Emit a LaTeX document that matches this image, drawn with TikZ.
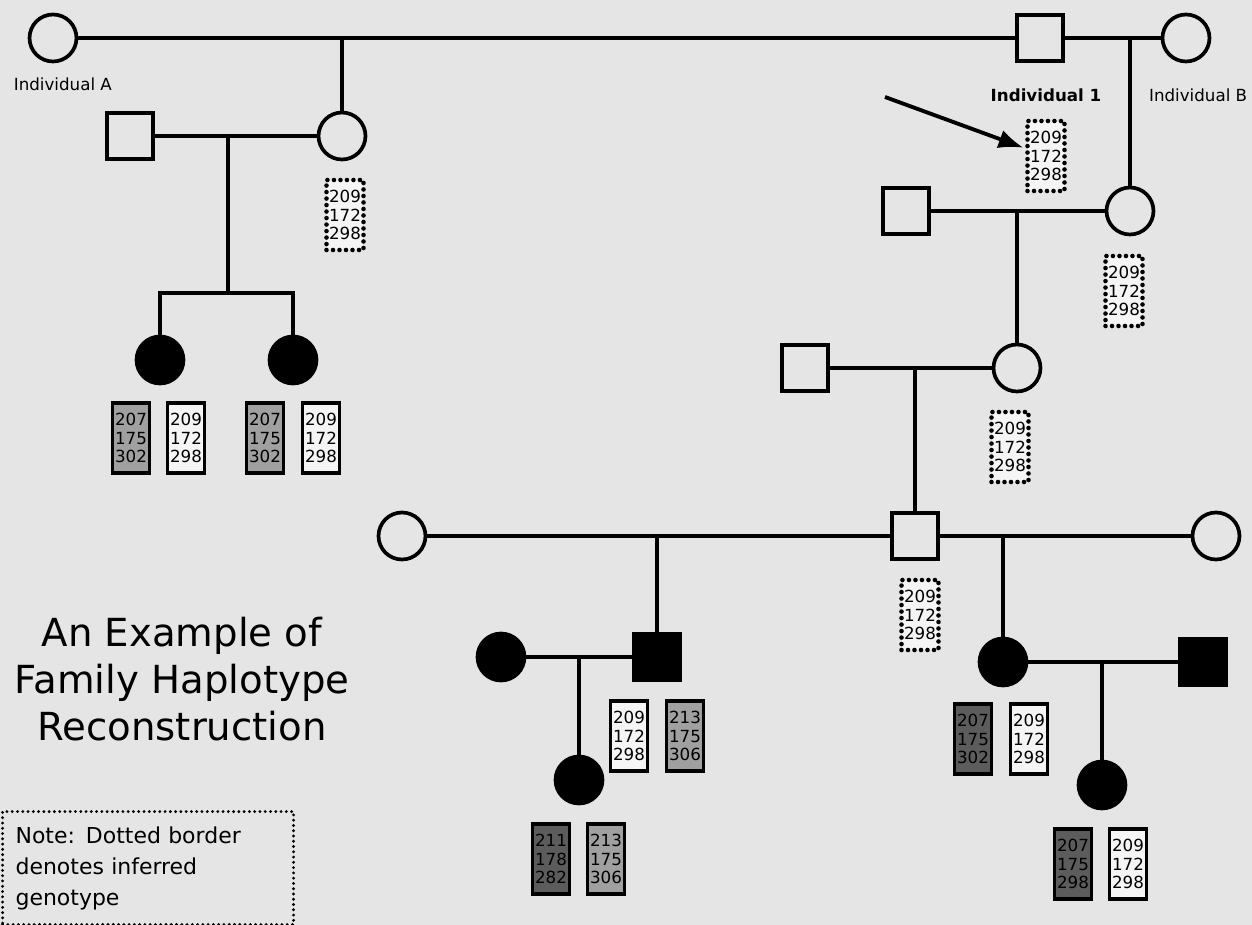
\documentclass[tikz,border=0pt]{standalone}
\usepackage{fontspec}
\setmainfont{DejaVu Sans}
\usetikzlibrary{arrows.meta}
\definecolor{scanbg}{RGB}{229,229,229}
\definecolor{hapgray}{RGB}{160,160,160}
\definecolor{hapdark}{RGB}{92,92,92}
\tikzset{
  male/.style={draw, line width=2.1pt, minimum size=0.92cm, inner sep=0pt},
  female/.style={circle, draw, line width=2.1pt, minimum size=0.94cm, inner sep=0pt},
  affm/.style={male, fill=black},
  afff/.style={female, fill=black},
  hap/.style={draw, line width=2.1pt, minimum width=0.74cm, minimum height=1.4cm,
    inner sep=0pt, align=center, font=\fontsize{9.5}{10.6}\selectfont},
  hapw/.style={hap, fill=white!96!black},
  hapg/.style={hap, fill=hapgray},
  hapd/.style={hap, fill=hapdark},
  hapinf/.style={hap, fill=white!96!black, line width=2.6pt, dash pattern=on 0pt off 3.7pt, line cap=round},
  lbl/.style={inner sep=0pt, font=\fontsize{9.5}{11}\selectfont},
}

\begin{document}
\begin{tikzpicture}[x=0.02cm, y=-0.02cm, line width=2.1pt, >=Latex]
  % page
  \fill[scanbg] (0,0) rectangle (1252,925);
  \useasboundingbox (0,0) rectangle (1252,925);
  % first generation
  \node[female] (indA) at (53,38) {};
  \node[male] (ind1) at (1040,38) {};
  \node[female] (indB) at (1186,38) {};
  \draw (indA) -- (ind1) -- (indB);
  \node[lbl, anchor=west] (lblA) at (12,84) {Individual A};
  \node[lbl, font=\fontsize{9.5}{11}\selectfont\bfseries] (lbl1) at (1046,95) {Individual 1};
  \node[lbl, anchor=east] (lblB) at (1249,95) {Individual B};
  \node[hapinf] (gInd1) at (1046,156) {209\\172\\298};
  \coordinate (arr) at (885,97);
  \draw[-{Latex[length=5mm,width=3.8mm]}, line width=2.2pt, shorten >=1pt] (arr) -- (gInd1);
  % left branch (daughter of Individual A)
  \node[female] (momA) at (342,136) {};
  \node[male] (dadL) at (130,136) {};
  \draw (momA |- indA) -- (momA);
  \draw (dadL) -- (momA);
  \node[hapinf] (gMomA) at (345,215) {209\\172\\298};
  \node[afff] (sis1) at (160,360) {};
  \node[afff] (sis2) at (293,360) {};
  \coordinate (jL) at (228,136);
  \coordinate (sL) at (228,293);
  \draw (jL) -- (sL);
  \draw (sis1) |- (sL) -| (sis2);
  \node[hapg] (gS1a) at (131,438) {207\\175\\302};
  \node[hapw] (gS1b) at (186,438) {209\\172\\298};
  \node[hapg] (gS2a) at (265,438) {207\\175\\302};
  \node[hapw] (gS2b) at (321,438) {209\\172\\298};
  % right branch (daughter of Individual B)
  \node[female] (girlB) at (1130,211) {};
  \node[male] (hubB) at (906,211) {};
  \draw (girlB |- ind1) -- (girlB);
  \draw (hubB) -- (girlB);
  \node[hapinf] (gGirlB) at (1124,291) {209\\172\\298};
  \node[female] (g3f) at (1017,368) {};
  \node[male] (g3m) at (805,368) {};
  \draw (g3f |- hubB) -- (g3f);
  \draw (g3m) -- (g3f);
  \node[hapinf] (gG3f) at (1010,447) {209\\172\\298};
  \node[male] (g4m) at (915,536) {};
  \node[female] (leftW) at (402,536) {};
  \node[female] (rightW) at (1216,536) {};
  \draw (g4m |- g3m) -- (g4m);
  \draw (leftW) -- (g4m) -- (rightW);
  \node[hapinf] (gG4m) at (920,615) {209\\172\\298};
  % son of the first wife
  \node[affm] (sonL) at (657,657) {};
  \node[afff] (wL) at (501,657) {};
  \draw (sonL |- leftW) -- (sonL);
  \draw (wL) -- (sonL);
  \node[hapw] (gSonLa) at (629,736) {209\\172\\298};
  \node[hapg] (gSonLb) at (685,736) {213\\175\\306};
  \node[afff] (gdL) at (579,780) {};
  \draw (gdL |- wL) -- (gdL);
  \node[hapd] (gGdLa) at (551,859) {211\\178\\282};
  \node[hapg] (gGdLb) at (606,859) {213\\175\\306};
  % daughter of the second wife
  \node[afff] (dauR) at (1003,662) {};
  \node[affm] (hR) at (1203,662) {};
  \draw (dauR |- g4m) -- (dauR);
  \draw (dauR) -- (hR);
  \node[hapd] (gDauRa) at (973,739) {207\\175\\302};
  \node[hapw] (gDauRb) at (1029,739) {209\\172\\298};
  \node[afff] (gdR) at (1102,785) {};
  \draw (gdR |- dauR) -- (gdR);
  \node[hapd] (gGdRa) at (1073,864) {207\\175\\298};
  \node[hapw] (gGdRb) at (1128,864) {209\\172\\298};
  % title and note
  \node[align=center, font=\fontsize{22}{26.8}\selectfont] (ttl) at (182,679)
    {An Example of\\Family Haplotype\\Reconstruction};
  \node[draw, line width=1.8pt, dash pattern=on 0pt off 3pt, line cap=round,
    anchor=north west, text width=5.3cm, minimum height=2.26cm, inner xsep=0.26cm,
    align=left, font=\fontsize{12.5}{17.6}\selectfont] (note) at (1,810)
    {Note: Dotted border\\denotes inferred\\genotype};
\end{tikzpicture}
\end{document}
